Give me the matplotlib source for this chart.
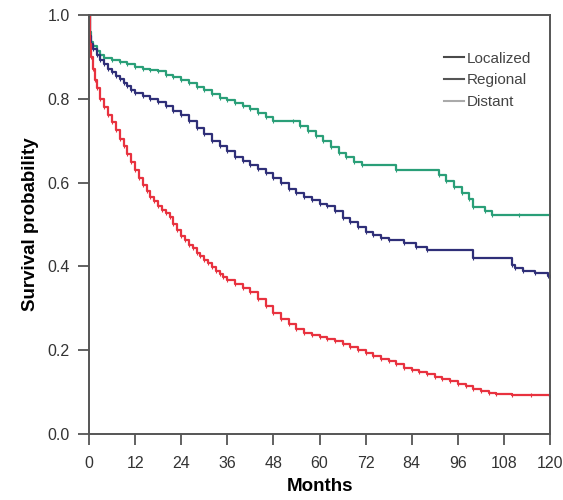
import matplotlib.pyplot as plt
from matplotlib.lines import Line2D

plt.rcParams['font.family'] = ['Liberation Sans', 'DejaVu Sans']

# Kaplan-Meier steps (months, survival probability)
loc_t = [0, 0.2, 0.5, 1, 2, 3, 4, 6, 8, 10, 12, 14, 16, 18, 20, 22, 24, 26, 28, 30,
         32, 34, 36, 38, 40, 42, 44, 46, 48, 53, 55, 57, 59, 61, 63, 65, 67, 69, 71,
         80, 91, 93, 95, 97, 99, 100, 103, 105, 112, 120]
loc_s = [1.0, 0.96, 0.935, 0.925, 0.915, 0.905, 0.897, 0.892, 0.887, 0.882, 0.876,
         0.872, 0.869, 0.866, 0.857, 0.852, 0.845, 0.838, 0.829, 0.82, 0.812, 0.803,
         0.797, 0.789, 0.783, 0.776, 0.767, 0.757, 0.748, 0.748, 0.735, 0.722, 0.712,
         0.700, 0.686, 0.670, 0.660, 0.650, 0.642, 0.630, 0.618, 0.605, 0.59, 0.575,
         0.56, 0.542, 0.532, 0.523, 0.523, 0.523]

reg_t = [0, 0.2, 0.5, 1, 2, 3, 4, 5, 6, 7, 8, 9, 10, 11, 12, 14, 16, 18, 20, 22, 24,
         26, 28, 30, 32, 34, 36, 38, 40, 42, 44, 46, 48, 50, 52, 54, 56, 58, 60, 62,
         64, 66, 68, 70, 72, 74, 76, 78, 82, 85, 88, 100, 110, 111, 113, 116, 119.5, 120]
reg_s = [1.0, 0.95, 0.93, 0.918, 0.905, 0.893, 0.882, 0.872, 0.863, 0.855, 0.847,
         0.838, 0.83, 0.822, 0.814, 0.806, 0.799, 0.793, 0.783, 0.772, 0.762, 0.748,
         0.73, 0.715, 0.700, 0.688, 0.675, 0.662, 0.652, 0.642, 0.633, 0.623, 0.612,
         0.600, 0.585, 0.575, 0.566, 0.558, 0.550, 0.543, 0.532, 0.515, 0.505, 0.495,
         0.483, 0.475, 0.468, 0.462, 0.455, 0.447, 0.440, 0.420, 0.403, 0.395, 0.388,
         0.384, 0.377, 0.377]

dis_t = [0, 0.2, 0.5, 1, 1.5, 2, 3, 4, 5, 6, 7, 8, 9, 10, 11, 12, 13, 14, 15, 16, 17,
         18, 19, 20, 21, 22, 23, 24, 25, 26, 27, 28, 29, 30, 31, 32, 33, 34, 35, 36,
         38, 40, 42, 44, 46, 48, 50, 52, 54, 56, 58, 60, 62, 64, 66, 68, 70, 72, 74,
         76, 78, 80, 82, 84, 86, 88, 90, 92, 94, 96, 98, 100, 102, 104, 106, 110, 115, 120]
dis_s = [1.0, 0.93, 0.9, 0.87, 0.845, 0.825, 0.8, 0.78, 0.762, 0.745, 0.725, 0.705,
         0.688, 0.668, 0.648, 0.63, 0.61, 0.595, 0.58, 0.565, 0.555, 0.545, 0.535,
         0.527, 0.518, 0.502, 0.487, 0.473, 0.462, 0.452, 0.443, 0.433, 0.425, 0.416,
         0.407, 0.398, 0.39, 0.382, 0.375, 0.368, 0.357, 0.348, 0.338, 0.322, 0.305,
         0.289, 0.274, 0.262, 0.250, 0.242, 0.236, 0.232, 0.227, 0.221, 0.214, 0.207,
         0.201, 0.194, 0.187, 0.180, 0.174, 0.166, 0.158, 0.152, 0.148, 0.143, 0.137,
         0.131, 0.126, 0.120, 0.114, 0.108, 0.103, 0.099, 0.096, 0.094, 0.092, 0.091]

labels = ["Localized", "Regional", "Distant"]
x_ticks = [0, 12, 24, 36, 48, 60, 72, 84, 96, 108, 120]
y_ticks = [0.0, 0.2, 0.4, 0.6, 0.8, 1.0]

fig = plt.figure(figsize=(5.63, 5.0), dpi=100)
ax = fig.add_axes([0.158, 0.132, 0.819, 0.838])

ax.plot(loc_t, loc_s, drawstyle='steps-post', color='#2a9f78', lw=1.6,
        marker='|', ms=3, mew=0.8)
ax.plot(reg_t, reg_s, drawstyle='steps-post', color='#2f2f78', lw=1.6,
        marker='|', ms=3, mew=0.8)
ax.plot(dis_t, dis_s, drawstyle='steps-post', color='#e8323f', lw=1.6,
        marker='|', ms=3, mew=0.8)

ax.set_xlim(0, 120)
ax.set_ylim(0, 1.0)
ax.set_xticks(x_ticks)
ax.set_yticks(y_ticks)
ax.set_yticklabels([f"{v:.1f}" for v in y_ticks])
ax.tick_params(direction='out', length=8, width=1.3, color='#555555',
               labelsize=11.5, labelcolor='#333333', pad=6)
ax.tick_params(axis='x', pad=8)
for sp in ax.spines.values():
    sp.set_color('#555555')
    sp.set_linewidth(1.4)

ax.set_xlabel("Months", fontsize=13.5, fontweight='bold', labelpad=5)
ax.set_ylabel("Survival probability", fontsize=13.5, fontweight='bold', labelpad=6)

# the legend in the source shows grey swatches
handles = [Line2D([], [], color='#4a4a4a', lw=1.5),
           Line2D([], [], color='#555555', lw=1.5),
           Line2D([], [], color='#aaaaaa', lw=1.5)]
leg = ax.legend(handles, labels, loc='upper left', bbox_to_anchor=(0.74, 0.945),
                frameon=False, fontsize=11, handlelength=1.3, handletextpad=0.2,
                labelspacing=0.5)
for t in leg.get_texts():
    t.set_color('#444444')

fig.savefig("out.png", dpi=100)
